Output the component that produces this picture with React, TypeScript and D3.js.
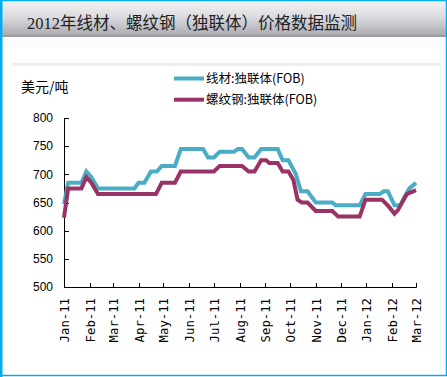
import React from "react";
import * as d3 from "d3";

const W = 447;
const H = 377;

const titleText = "2012年线材、螺纹钢（独联体）价格数据监测";
const unitLabel = "美元/吨";
const seriesNames = ["线材:独联体(FOB)", "螺纹钢:独联体(FOB)"];
const seriesColors = ["#4BACC6", "#993366"];

const yTicks = [500, 550, 600, 650, 700, 750, 800];
const monthLabels = ["Jan-11", "Feb-11", "Mar-11", "Apr-11", "May-11", "Jun-11", "Jul-11", "Aug-11", "Sep-11", "Oct-11", "Nov-11", "Dec-11", "Jan-12", "Feb-12", "Mar-12"];

const wireDates = [
  "2011-01-01", "2011-01-06", "2011-01-22", "2011-01-28", "2011-02-03", "2011-02-11",
  "2011-03-27", "2011-04-01", "2011-04-08", "2011-04-16", "2011-04-23", "2011-04-29",
  "2011-05-15", "2011-05-22", "2011-06-18", "2011-06-24", "2011-07-01", "2011-07-08",
  "2011-07-25", "2011-07-30", "2011-08-04", "2011-08-12", "2011-08-19", "2011-08-27",
  "2011-09-16", "2011-09-22", "2011-09-29", "2011-10-08", "2011-10-14", "2011-10-22",
  "2011-11-01", "2011-11-21", "2011-11-25", "2011-12-24", "2011-12-31", "2012-01-17",
  "2012-01-22", "2012-01-27", "2012-02-04", "2012-02-11", "2012-02-16", "2012-02-22",
  "2012-03-01",
];
const wireValues = [
  647, 685, 685, 705, 695, 675,
  675, 685, 685, 705, 705, 715,
  715, 745, 745, 730, 730, 740,
  740, 745, 745, 730, 730, 745,
  745, 725, 725, 700, 670, 670,
  650, 650, 645, 645, 665, 665,
  670, 670, 645, 645, 660, 675,
  685,
];

const rebarDates = [
  "2011-01-01", "2011-01-06", "2011-01-22", "2011-01-28", "2011-02-03", "2011-02-11",
  "2011-04-22", "2011-04-29", "2011-05-15", "2011-05-22", "2011-07-01", "2011-07-08",
  "2011-08-04", "2011-08-12", "2011-08-19", "2011-08-27", "2011-09-02", "2011-09-06",
  "2011-09-16", "2011-09-22", "2011-09-29", "2011-10-05", "2011-10-10", "2011-10-15",
  "2011-10-22", "2011-11-01", "2011-11-21", "2011-11-28", "2011-12-24", "2011-12-31",
  "2012-01-20", "2012-01-28", "2012-02-04", "2012-02-08", "2012-02-19", "2012-03-01",
];
const rebarValues = [
  623, 675, 675, 695, 685, 665,
  665, 685, 685, 705, 705, 715,
  715, 705, 705, 725, 725, 720,
  720, 705, 705, 690, 655, 650,
  650, 635, 635, 625, 625, 655,
  655, 643, 630, 636, 665, 672,
];

const parse = d3.utcParse("%Y-%m-%d");

export default function App() {
  const x = d3
    .scaleUtc()
    .domain([Date.UTC(2011, 0, 1), Date.UTC(2012, 2, 1)])
    .range([64, 416]);
  const y = d3.scaleLinear().domain([500, 800]).range([287, 118]);

  const monthTicks = d3.utcMonth.range(new Date(Date.UTC(2011, 0, 1)), new Date(Date.UTC(2012, 2, 2)));

  const line = d3
    .line<[Date, number]>()
    .x((d) => x(d[0]))
    .y((d) => y(d[1]));

  const wire: [Date, number][] = wireDates.map((d, i) => [parse(d) as Date, wireValues[i]]);
  const rebar: [Date, number][] = rebarDates.map((d, i) => [parse(d) as Date, rebarValues[i]]);

  const cjk = "'Noto Sans CJK SC', sans-serif";

  return (
    <svg
      width={W}
      height={H}
      style={{ position: "absolute", left: 0, top: 0, display: "block" }}
      xmlns="http://www.w3.org/2000/svg"
    >
      <defs>
        <linearGradient id="tb" x1="0" y1="0" x2="0" y2="1">
          <stop offset="0%" stopColor="#f3f3f5" />
          <stop offset="45%" stopColor="#dcdce0" />
          <stop offset="100%" stopColor="#a9a9af" />
        </linearGradient>
      </defs>
      <rect x={0} y={0} width={W} height={H} fill="#ffffff" />
      <rect x={2} y={1} width={W - 3} height={35} fill="url(#tb)" />
      <rect x={2} y={35} width={W - 3} height={2} fill="#9c9ca2" />
      <rect x={2} y={37} width={W - 3} height={10} fill="#fbfbfe" />
      <rect x={12} y={63} width={428} height={3} fill="#eeeeee" />
      <line x1={440.5} y1={63} x2={440.5} y2={370} stroke="#f3f3f3" />
      {/* frame */}
      <rect x={1} y={0.5} width={W - 1.5} height={H - 2} fill="none" stroke="#00AEEF" strokeWidth={1.5} />
      <rect x={0} y={0} width={2.5} height={H} fill="#00AEEF" />

      <text x={27} y={29} fontFamily={"'Liberation Serif', 'Noto Sans CJK SC', serif"} fontSize={16.5} fill="#222">
        {titleText}
      </text>

      <text x={21} y={92} fontFamily={cjk} fontSize={14} fill="#000">
        {unitLabel}
      </text>

      {/* legend */}
      {seriesNames.map((name, i) => (
        <g key={name}>
          <line x1={174} x2={204} y1={78.5 + i * 21.2} y2={78.5 + i * 21.2} stroke={seriesColors[i]} strokeWidth={4} />
          <text x={206} y={78.5 + i * 21.2} dy="0.36em" fontFamily={cjk} fontSize={12.5} fill="#000">
            {name}
          </text>
        </g>
      ))}

      {/* y axis */}
      <line x1={64.5} x2={64.5} y1={y(800)} y2={y(500) + 0.5} stroke="#000" />
      {yTicks.map((t) => (
        <g key={t}>
          <line x1={64.5} x2={69} y1={Math.round(y(t)) + 0.5} y2={Math.round(y(t)) + 0.5} stroke="#000" />
          <text
            x={53}
            y={y(t)}
            dy="0.35em"
            textAnchor="end"
            fontFamily="'Liberation Sans', Arial, sans-serif"
            fontSize={12}
            fill="#000"
          >
            {t}
          </text>
        </g>
      ))}

      {/* x axis */}
      <line x1={64} x2={416.5} y1={287.5} y2={287.5} stroke="#000" />
      {monthTicks.map((d, i) => (
        <g key={i}>
          <line x1={Math.round(x(d)) + 0.5} x2={Math.round(x(d)) + 0.5} y1={287.5} y2={283} stroke="#000" />
          <text
            transform={`translate(${x(d) + 1},298) rotate(-90)`}
            textAnchor="end"
            dominantBaseline="central"
            fontFamily="'DejaVu Sans Mono', 'Liberation Mono', monospace"
            fontSize={12.3}
            fill="#000"
          >
            {monthLabels[i]}
          </text>
        </g>
      ))}

      <path d={line(wire) || ""} fill="none" stroke={seriesColors[0]} strokeWidth={4} strokeLinejoin="miter" />
      <path d={line(rebar) || ""} fill="none" stroke={seriesColors[1]} strokeWidth={4} strokeLinejoin="miter" />
    </svg>
  );
}
